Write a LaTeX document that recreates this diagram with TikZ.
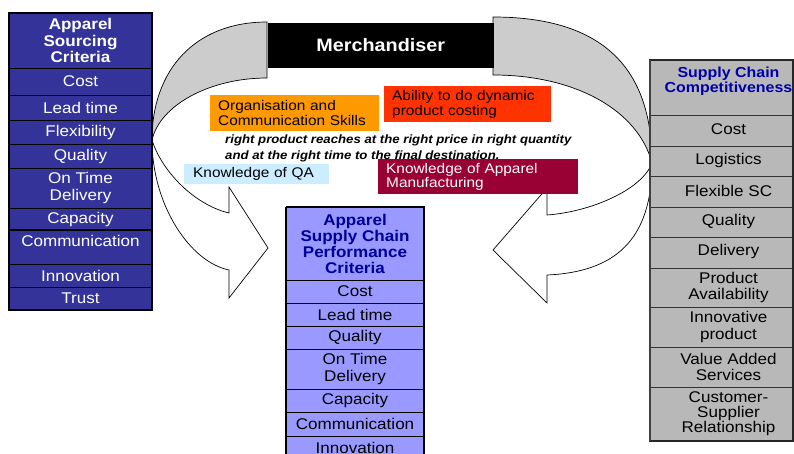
\documentclass[tikz,border=0pt]{standalone}
\usepackage{fontspec}
\setmainfont{Liberation Sans}[FakeStretch=1.1]
\definecolor{leftblue}{HTML}{333399}
\definecolor{midblue}{HTML}{9999FF}
\definecolor{hdrblue}{HTML}{000099}
\definecolor{rhdrblue}{HTML}{0000AA}
\definecolor{rightgray}{HTML}{B8B8B8}
\definecolor{bandgray}{HTML}{CCCCCC}
\definecolor{qablue}{HTML}{CCECFF}
\definecolor{orgorange}{HTML}{FF9900}
\definecolor{ablred}{HTML}{FF3300}
\definecolor{mfgred}{HTML}{990033}
\begin{document}
\begin{tikzpicture}[x=1pt,y=-1pt,
  cell/.style={draw=black, line width=0.9pt, inner sep=0pt, outer sep=0pt, anchor=north west, align=center},
  cellL/.style={cell, fill=leftblue, text=white, minimum width=143pt, font=\fontsize{15.5}{17}\selectfont},
  cellM/.style={cell, fill=midblue, text=black, minimum width=138pt, font=\fontsize{15.5}{17}\selectfont},
  cellR/.style={cell, draw=black!80, fill=rightgray, minimum width=143pt},
  txtR/.style={inner sep=0pt, align=center, font=\fontsize{15.5}{16.5}\selectfont},
  infobox/.style={anchor=north west, inner ysep=0pt, align=left, font=\fontsize{14}{14.5}\selectfont},
  band/.style={draw=black, line width=0.7pt, fill=bandgray},
  front/.style={draw=black, line width=0.7pt, fill=white, line join=miter}
]
\useasboundingbox (0,0) rectangle (794,454);
\clip (0,0) rectangle (794,454);
\fill[white] (0,0) rectangle (794,454);

% ---- curved arrows ----
\filldraw[band] (267,22) .. controls (195,22) and (152,70) .. (152,140)
  .. controls (160,105) and (210,78) .. (267,78) -- cycle;
\filldraw[front] (152,140) .. controls (152,205) and (190,262) .. (229,270)
  -- (229,298) -- (268,248) -- (229,187) -- (229,213)
  .. controls (195,205) and (162,172) .. (152,140) -- cycle;
\filldraw[band] (493,17) .. controls (610,17) and (652,75) .. (652,163)
  .. controls (638,110) and (575,75) .. (493,75) -- cycle;
\filldraw[front] (652,163) .. controls (652,240) and (615,272) .. (547,275)
  -- (547,303) -- (493,250) -- (547,188) -- (547,215)
  .. controls (590,212) and (642,190) .. (652,163) -- cycle;

% ---- merchandiser ----
\node[anchor=north west, fill=black, draw=black, minimum width=225pt, minimum height=44pt, inner sep=0pt,
  text=white, font=\bfseries\fontsize{18}{18}\selectfont] (merch) at (268,23) {Merchandiser};

% ---- centre texts ----
\node[anchor=west, inner sep=0pt, align=left, font=\bfseries\itshape\fontsize{12}{16}\selectfont] (goal) at (225,148)
  {right product reaches at the right price in right quantity\\and at the right time to the final destination.};
\node[infobox, fill=orgorange, text width=153pt, inner xsep=8pt, minimum height=36pt] (org) at (210,95)
  {Organisation and\\Communication Skills};
\node[infobox, fill=ablred, text width=151pt, inner xsep=8pt, minimum height=36pt] (abl) at (384,86)
  {Ability to do dynamic\\product costing};
\node[infobox, fill=qablue, text width=127pt, inner xsep=9pt, minimum height=20pt] (qa) at (184,164)
  {Knowledge of QA};
\node[infobox, fill=mfgred, text=white, text width=184pt, inner xsep=8pt, minimum height=35pt] (mfg) at (378,159)
  {Knowledge of Apparel\\Manufacturing};

% ---- left column ----
\node[cellL, minimum height=55pt, font=\bfseries\fontsize{15.5}{16.5}\selectfont] (lh) at (9,13) {Apparel\\Sourcing\\Criteria};
\node[cellL, minimum height=27pt] (l1) at (9,68) {Cost};
\node[cellL, minimum height=25pt] (l2) at (9,95) {Lead time};
\node[cellL, minimum height=24pt] (l3) at (9,120) {Flexibility};
\node[cellL, minimum height=24pt] (l4) at (9,144) {Quality};
\node[cellL, minimum height=40pt] (l5) at (9,168) {On Time\\Delivery};
\node[cellL, minimum height=22pt] (l6) at (9,208) {Capacity};
\node[cellL, minimum height=34pt] (l7) at (9,230) {\raisebox{4pt}[11pt][3pt]{Communication}};
\node[cellL, minimum height=23pt] (l8) at (9,264) {Innovation};
\node[cellL, minimum height=23pt] (l9) at (9,287) {Trust};
\draw[line width=1.8pt] (l6.south west) -- (l6.south east);
\draw[line width=1.6pt] (lh.north west) rectangle (l9.south east);

% ---- middle column ----
\node[cellM, minimum height=73pt, text=hdrblue, font=\bfseries\fontsize{15.5}{16}\selectfont] (mh) at (286,207)
  {Apparel\\Supply Chain\\Performance\\Criteria};
\node[cellM, minimum height=23pt] (m1) at (286,280) {Cost};
\node[cellM, minimum height=23pt] (m2) at (286,303) {Lead time};
\node[cellM, minimum height=23pt] (m3) at (286,326) {Quality};
\node[cellM, minimum height=40pt] (m4) at (286,349) {On Time\\Delivery};
\node[cellM, minimum height=23pt] (m5) at (286,389) {Capacity};
\node[cellM, minimum height=24pt] (m6) at (286,412) {Communication};
\node[cellM, minimum height=24pt] (m7) at (286,436) {Innovation};
\draw[line width=1.6pt] (mh.north west) -- (m7.south west) (mh.north west) -- (mh.north east) -- (m7.south east);

% ---- right column ----
\node[cellR, minimum height=55pt] (rh) at (650,60) {};
\node[cellR, minimum height=31pt] (r1) at (650,115) {};
\node[cellR, minimum height=30pt] (r2) at (650,146) {};
\node[cellR, minimum height=31pt] (r3) at (650,176) {};
\node[cellR, minimum height=30pt] (r4) at (650,207) {};
\node[cellR, minimum height=31pt] (r5) at (650,237) {};
\node[cellR, minimum height=39pt] (r6) at (650,268) {};
\node[cellR, minimum height=40pt] (r7) at (650,307) {};
\node[cellR, minimum height=40pt] (r8) at (650,347) {};
\node[cellR, minimum height=54pt] (r9) at (650,387) {};
\draw[line width=1.6pt, draw=black!85] (rh.north west) rectangle (r9.south east);
\draw[line width=2.4pt, draw=black!75] (rh.north west) -- (r9.south west);
\node[txtR, text=rhdrblue, font=\bfseries\fontsize{14.5}{15.5}\selectfont] (rht) at ([xshift=7pt,yshift=6pt]rh.center) {Supply Chain\\Competitiveness};
\node[txtR] (r1t) at ([xshift=7pt,yshift=1pt]r1.center) {Cost};
\node[txtR] (r2t) at ([xshift=7pt,yshift=1pt]r2.center) {Logistics};
\node[txtR] (r3t) at ([xshift=7pt,yshift=1pt]r3.center) {Flexible SC};
\node[txtR] (r4t) at ([xshift=7pt,yshift=1pt]r4.center) {Quality};
\node[txtR] (r5t) at ([xshift=7pt,yshift=1pt]r5.center) {Delivery};
\node[txtR] (r6t) at ([xshift=7pt]r6.center) {Product\\Availability};
\node[txtR] (r7t) at ([xshift=7pt]r7.center) {Innovative\\product};
\node[txtR] (r8t) at ([xshift=7pt]r8.center) {Value Added\\Services};
\node[txtR, font=\fontsize{15.5}{15}\selectfont] (r9t) at ([xshift=7pt]r9.center) {Customer-\\Supplier\\Relationship};
\end{tikzpicture}
\end{document}
